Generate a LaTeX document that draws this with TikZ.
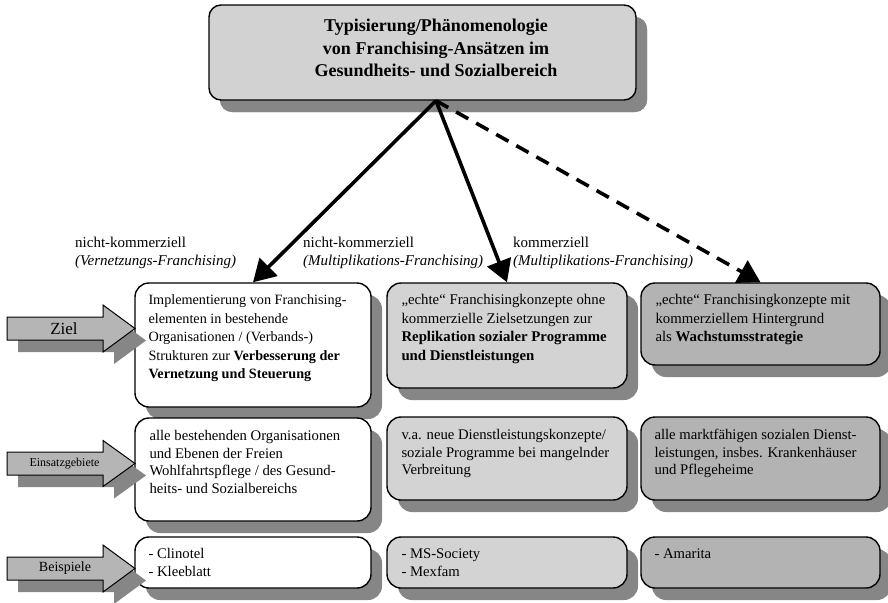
\documentclass[tikz,border=0pt]{standalone}
\usepackage{fontspec}
\setmainfont{Liberation Serif}
\usetikzlibrary{shadows,arrows.meta,calc}
\definecolor{boxlight}{HTML}{D3D3D3}
\definecolor{boxdark}{HTML}{B3B3B3}
\definecolor{topfill}{HTML}{D2D2D2}
\definecolor{shadowgray}{HTML}{868686}
\definecolor{arrowgray}{HTML}{B5B5B5}
\begin{document}
\begin{tikzpicture}[x=1pt,y=-1pt,
  shd/.style={drop shadow={shadow xshift=11pt,shadow yshift=-12pt,fill=shadowgray,opacity=1}},
  card/.style={draw=black,line width=1.4pt,rounded corners=14pt,shd,inner sep=0pt},
  colw/.style={minimum width=236pt},
  colm/.style={minimum width=240pt},
  colr/.style={minimum width=239pt},
  bigtxt/.style={anchor=north west,inner sep=0pt,align=left,font=\fontsize{14.8}{18.6}\selectfont},
  smalltxt/.style={anchor=north west,inner sep=0pt,align=left,font=\fontsize{14.7}{17.5}\selectfont},
  lbl/.style={anchor=north west,inner sep=0pt,align=left,font=\fontsize{15}{17.8}\selectfont},
  sidearrow/.style={draw=black,line width=1pt,fill=arrowgray,shd},
  conn/.style={line width=3.6pt,-{Triangle[length=22pt,width=25pt]}},
]
\useasboundingbox (0,0) rectangle (888,602);

% top box
\node[card,fill=topfill,rounded corners=12pt,minimum width=427pt,minimum height=95pt,shd] (top) at (422.5,52.5) {};
\node[anchor=north,inner sep=0pt,align=center,font=\fontsize{18}{22.5}\selectfont\bfseries] (title) at (436,16)
  {\strut Typisierung/Phänomenologie\\von Franchising-Ansätzen im\\Gesundheits- und Sozialbereich};
\coordinate (src) at (title.center |- top.south);

% row 1
\node[card,fill=white,colw,minimum height=124pt] (b11) at (253,345) {};
\node[card,fill=boxlight,colm,minimum height=105pt] (b12) at (507,335.5) {};
\node[card,fill=boxdark,colr,minimum height=82pt] (b13) at (760.5,324) {};
\node[bigtxt,font=\fontsize{14.2}{18.6}\selectfont] (t11) at ($(b11.north west)+(14,9)$) {\strut Implementierung von Franchising-\\elementen in bestehende\\Organisationen / (Verbands-)\\Strukturen zur \textbf{Verbesserung der}\\\textbf{Vernetzung und Steuerung}};
\node[bigtxt] (t12) at ($(b12.north west)+(15,9)$) {\strut „echte“ Franchisingkonzepte ohne\\kommerzielle Zielsetzungen zur\\\textbf{Replikation sozialer Programme}\\\textbf{und Dienstleistungen}};
\node[bigtxt] (t13) at ($(b13.north west)+(15,9)$) {\strut „echte“ Franchisingkonzepte mit\\kommerziellem Hintergrund\\als \textbf{Wachstumsstrategie}};

% row 2
\node[card,fill=white,colw,minimum height=103pt] (b21) at (253,469.5) {};
\node[card,fill=boxlight,colm,minimum height=83pt] (b22) at (507,458.5) {};
\node[card,fill=boxdark,colr,minimum height=83pt] (b23) at (760.5,458.5) {};
\node[smalltxt] (t21) at ($(b21.north west)+(15,11)$) {\strut alle bestehenden Organisationen\\und Ebenen der Freien\\Wohlfahrtspflege / des Gesund-\\heits- und Sozialbereichs};
\node[smalltxt] (t22) at ($(b22.north west)+(15,11)$) {\strut v.a. neue Dienstleistungskonzepte/\\soziale Programme bei mangelnder\\Verbreitung};
\node[smalltxt] (t23) at ($(b23.north west)+(14,11)$) {\strut alle marktfähigen sozialen Dienst-\\leistungen, insbes. Krankenhäuser\\und Pflegeheime};

% row 3
\node[card,fill=white,colw,minimum height=51pt] (b31) at (253,562.5) {};
\node[card,fill=boxlight,colm,minimum height=51pt] (b32) at (507,562.5) {};
\node[card,fill=boxdark,colr,minimum height=51pt] (b33) at (760.5,562.5) {};
\node[smalltxt] (t31) at ($(b31.north west)+(14,10)$) {\strut - Clinotel\\- Kleeblatt};
\node[smalltxt] (t32) at ($(b32.north west)+(15,10)$) {\strut - MS-Society\\- Mexfam};
\node[smalltxt] (t33) at ($(b33.north west)+(14,10)$) {\strut - Amarita};

% side arrows
\path[sidearrow] (7,317) -- (103,317) -- (103,305) -- (135,328.5) -- (103,352) -- (103,340) -- (7,340) -- cycle;
\node[inner sep=0pt,font=\fontsize{17}{20}\selectfont] (aziel) at (64,328.5) {Ziel};
\path[sidearrow] (7,452) -- (103,452) -- (103,440.5) -- (135,463.5) -- (103,486.5) -- (103,475) -- (7,475) -- cycle;
\node[inner sep=0pt,font=\fontsize{12}{15}\selectfont] (aeins) at (64.5,463.5) {Einsatzgebiete};
\path[sidearrow] (7,557) -- (103,557) -- (103,545) -- (135,568.5) -- (103,592) -- (103,580) -- (7,580) -- cycle;
\node[inner sep=0pt,font=\fontsize{14}{16}\selectfont] (abei) at (65,568.5) {Beispiele};

% labels
\node[lbl] (l1) at (75,235) {\strut nicht-kommerziell\\\textit{(Vernetzungs-Franchising)}};
\node[lbl] (l2) at (303,235) {\strut nicht-kommerziell\\\textit{(Multiplikations-Franchising)}};
\node[lbl] (l3) at (513,235) {\strut kommerziell\\\textit{(Multiplikations-Franchising)}};

% connectors
\draw[conn] (src) -- (b11.north);
\draw[conn] (src) -- (b12.north);
\draw[conn,dash pattern=on 14pt off 9pt] (src) -- (b13.north);
\end{tikzpicture}
\end{document}
